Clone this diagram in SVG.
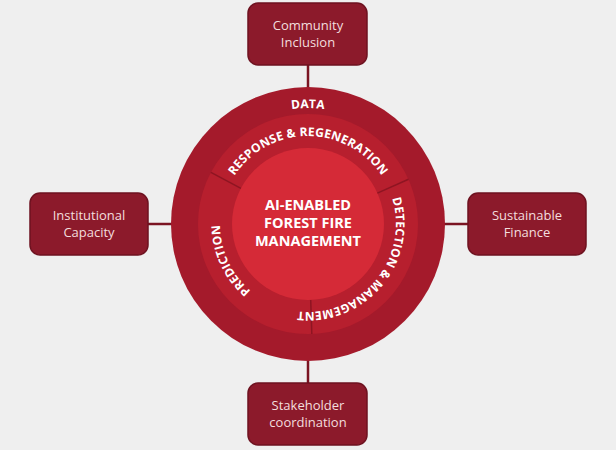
<svg xmlns="http://www.w3.org/2000/svg" width="616" height="450" viewBox="0 0 616 450">
<style>
.box{fill:#8c1a2b;stroke:#6e1220;stroke-width:1.5}
.bt{font-family:"Open Sans","Liberation Sans",sans-serif;font-size:13px;fill:#f3dede;text-anchor:middle}
.rt{font-family:"Open Sans","Liberation Sans",sans-serif;font-weight:bold;font-size:12px;fill:#fff;letter-spacing:0.2px}
.ct{font-family:"Open Sans","Liberation Sans",sans-serif;font-weight:bold;font-size:14.5px;fill:#fff;text-anchor:middle}
.ln{stroke:#7a1422;stroke-width:2.5}
.dv{stroke:#8e1522;stroke-width:1.5}
</style>
<defs>
<path id="pData" d="M192,224 A116,116 0 0 1 424,224"/>
<path id="pResp" d="M220,224 A88,88 0 0 1 396,224"/>
<path id="pDet" d="M364.6,156.6 A88,88 0 0 1 251.4,291.4"/>
<path id="pPred" d="M345.2,303.8 A88,88 0 0 1 270.8,144.2"/>
</defs>
<rect width="616" height="450" fill="#efefef"/>
<g id="connectors">
<line class="ln" x1="308" y1="65" x2="308" y2="88"/>
<line class="ln" x1="308" y1="361" x2="308" y2="383"/>
<line class="ln" x1="148" y1="224" x2="172" y2="224"/>
<line class="ln" x1="444" y1="224" x2="468" y2="224"/>
</g>
<g id="hub">
<circle cx="308" cy="224" r="137" fill="#a41a2b"/>
<circle cx="308" cy="224" r="110" fill="#b71f2e"/>
<circle cx="308" cy="224" r="76" fill="#d52a37"/>
<line class="dv" x1="240.9" y1="188.4" x2="210.9" y2="172.4"/>
<line class="dv" x1="377.4" y1="193.1" x2="408.5" y2="179.3"/>
<line class="dv" x1="310.7" y1="299.9" x2="311.8" y2="333.9"/>
<text class="rt"><textPath href="#pData" startOffset="50%" text-anchor="middle">DATA</textPath></text>
<text class="rt"><textPath href="#pResp" startOffset="50%" text-anchor="middle">RESPONSE &amp; REGENERATION</textPath></text>
<text class="rt"><textPath href="#pDet" startOffset="50%" text-anchor="middle">DETECTION &amp; MANAGEMENT</textPath></text>
<text class="rt"><textPath href="#pPred" startOffset="50%" text-anchor="middle">PREDICTION</textPath></text>
<text class="ct" x="308" y="210">AI-ENABLED</text>
<text class="ct" x="308" y="228">FOREST FIRE</text>
<text class="ct" x="308" y="246">MANAGEMENT</text>
</g>
<g id="community"><rect class="box" x="248" y="3" width="119" height="62" rx="10"/><text class="bt" x="308" y="30">Community</text><text class="bt" x="308" y="47">Inclusion</text></g>
<g id="institutional"><rect class="box" x="30" y="193" width="118" height="62" rx="10"/><text class="bt" x="89" y="220">Institutional</text><text class="bt" x="89" y="237">Capacity</text></g>
<g id="finance"><rect class="box" x="468" y="193" width="118" height="62" rx="10"/><text class="bt" x="527" y="220">Sustainable</text><text class="bt" x="527" y="237">Finance</text></g>
<g id="stakeholder"><rect class="box" x="248" y="383" width="119" height="62" rx="10"/><text class="bt" x="308" y="410">Stakeholder</text><text class="bt" x="308" y="427">coordination</text></g>
</svg>
